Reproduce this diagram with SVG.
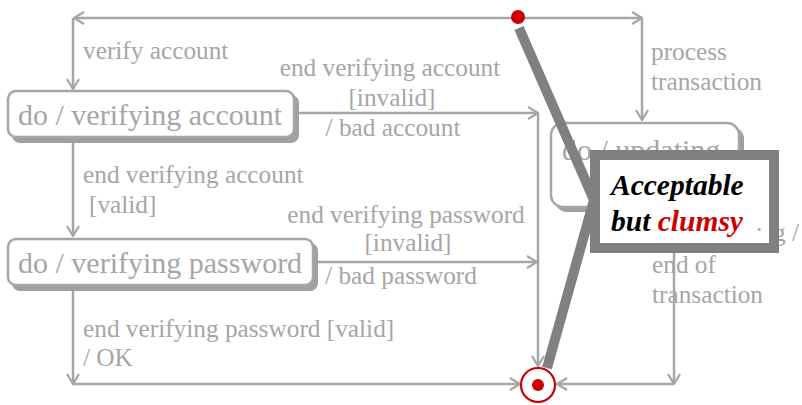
<svg xmlns="http://www.w3.org/2000/svg" width="802" height="405" viewBox="0 0 802 405">
  <style>
    text { font-family: 'Liberation Serif', Tinos, 'Times New Roman', 'DejaVu Serif', serif; }
    .lbl { font-size: 25.3px; fill: #a6a6a6; }
    .st { font-size: 30px; fill: #a6a6a6; }
    .box { fill: #ffffff; stroke: #a6a6a6; stroke-width: 2.5; }
    .shadow { fill: #a0a0a0; }
    .edge { fill: none; stroke: #a6a6a6; stroke-width: 2.5; marker-end: url(#arr); }
    .note { font-size: 29.5px; font-weight: bold; font-style: italic; fill: #000000; }
  </style>
  <defs>
    <marker id="arr" viewBox="0 0 12 14" refX="11" refY="7" markerWidth="12" markerHeight="14" markerUnits="userSpaceOnUse" orient="auto">
      <path d="M1,1 L11,7 L1,13" fill="none" stroke="#a6a6a6" stroke-width="2.2"/>
    </marker>
  </defs>

  <rect width="802" height="405" fill="#ffffff"/>

  <!-- connectors -->
  <g id="connectors">
    <line class="edge" x1="518" y1="18" x2="74" y2="18"/>
    <line class="edge" x1="73" y1="18" x2="73" y2="89"/>
    <line class="edge" x1="518" y1="18" x2="642" y2="18"/>
    <line class="edge" x1="642" y1="18" x2="642" y2="120"/>
    <line class="edge" x1="296" y1="113" x2="538" y2="113"/>
    <line class="edge" x1="538" y1="113" x2="538" y2="366"/>
    <line class="edge" x1="73" y1="139" x2="73" y2="236"/>
    <line class="edge" x1="318" y1="262" x2="537" y2="262"/>
    <line class="edge" x1="73" y1="291" x2="73" y2="384"/>
    <line class="edge" x1="73" y1="384" x2="520" y2="384"/>
    <line class="edge" x1="674" y1="208" x2="674" y2="384"/>
    <line class="edge" x1="674" y1="384" x2="557" y2="384"/>
  </g>

  <!-- transition labels -->
  <g id="labels">
    <text class="lbl" x="83" y="59">verify account</text>
    <text class="lbl" x="390" y="76" text-anchor="middle">end verifying account</text>
    <text class="lbl" x="392" y="106" text-anchor="middle">[invalid]</text>
    <text class="lbl" x="393" y="136" text-anchor="middle">/ bad account</text>
    <text class="lbl" x="83" y="183">end verifying account</text>
    <text class="lbl" x="89" y="213">[valid]</text>
    <text class="lbl" x="406" y="223" text-anchor="middle">end verifying password</text>
    <text class="lbl" x="408" y="251" text-anchor="middle">[invalid]</text>
    <text class="lbl" x="401" y="284" text-anchor="middle">/ bad password</text>
    <text class="lbl" x="83" y="337">end verifying password [valid]</text>
    <text class="lbl" x="83" y="366">/ OK</text>
    <text class="lbl" x="651" y="60">process</text>
    <text class="lbl" x="651" y="90">transaction</text>
    <text class="lbl" x="773" y="241">g /</text>
    <text class="lbl" x="652" y="273">end of</text>
    <text class="lbl" x="652" y="303">transaction</text>
  </g>

  <!-- states -->
  <g id="verifying-account">
    <rect class="shadow" x="12" y="95" width="287" height="48" rx="8"/>
    <rect class="box" x="8" y="91" width="286" height="46" rx="8"/>
    <text class="st" x="18" y="125">do / verifying account</text>
  </g>
  <g id="verifying-password">
    <rect class="shadow" x="12" y="243" width="306" height="48" rx="8"/>
    <rect class="box" x="8" y="239" width="305" height="46" rx="8"/>
    <text class="st" x="18" y="273">do / verifying password</text>
  </g>
  <g id="updating">
    <rect class="shadow" x="555" y="127" width="189" height="85" rx="12"/>
    <rect class="box" x="551" y="123" width="188" height="84" rx="12"/>
    <text class="st" x="562" y="160">do / updating</text>
  </g>

  <!-- initial and final states -->
  <g id="initial">
    <circle cx="518" cy="17" r="7" fill="#cc0000"/>
  </g>
  <g id="final">
    <circle cx="538" cy="385" r="17" fill="#ffffff" stroke="#cc0000" stroke-width="2.2"/>
    <circle cx="538" cy="385" r="6" fill="#cc0000"/>
  </g>

  <!-- check mark and note -->
  <g id="check">
    <polyline points="519,28 594,200 547,368" fill="none" stroke="#808080" stroke-width="10"/>
  </g>
  <g id="note">
    <rect x="595" y="155" width="179" height="93" fill="#ffffff" stroke="#808080" stroke-width="10"/>
    <text class="note" x="611" y="195">Acceptable</text>
    <text class="note" x="611" y="231">but <tspan fill="#cc0000">clumsy</tspan></text>
    <text class="lbl" x="756" y="231">.</text>
  </g>
</svg>
